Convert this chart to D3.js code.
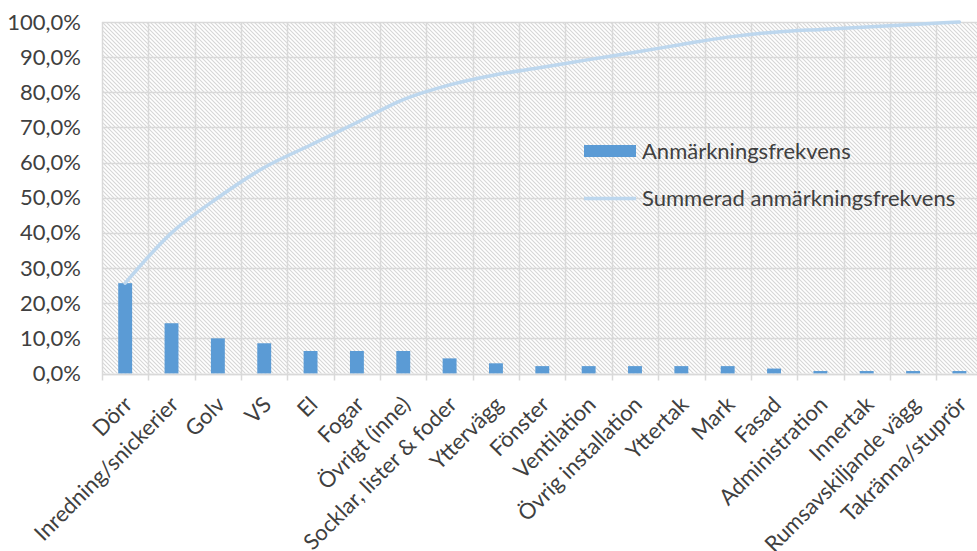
<!DOCTYPE html>
<html>
<head>
<meta charset="utf-8">
<script src="https://cdn.jsdelivr.net/npm/d3@7"></script>
<style>
  html, body { margin: 0; padding: 0; background: #ffffff; }
  svg { display: block; font-family: Lato, "Open Sans", sans-serif; }
</style>
</head>
<body>
<svg id="chart" width="977" height="551"></svg>
<script>
// Categories (sorted by frequency)
const categories = [
  "Dörr", "Inredning/snickerier", "Golv", "VS", "El", "Fogar", "Övrigt (inne)",
  "Socklar, lister & foder", "Yttervägg", "Fönster", "Ventilation", "Övrig installation",
  "Yttertak", "Mark", "Fasad", "Administration", "Innertak", "Rumsavskiljande vägg",
  "Takränna/stuprör"
];

// Anmärkningsfrekvens (%)
const frequency = [
  25.7, 14.3, 10.0, 8.6, 6.4, 6.4, 6.4,
  4.3, 2.9, 2.1, 2.1, 2.1,
  2.1, 2.1, 1.4, 0.7, 0.7, 0.7,
  0.7
];

// Summerad anmärkningsfrekvens (%)
const cumulative = [
  25.7, 40.0, 50.0, 58.6, 65.0, 71.4, 77.9,
  82.1, 85.0, 87.1, 89.3, 91.4,
  93.6, 95.7, 97.1, 97.9, 98.6, 99.3,
  100.0
];

// Y axis ticks (%)
const yTicks = [0, 10, 20, 30, 40, 50, 60, 70, 80, 90, 100];

const seriesNames = ["Anmärkningsfrekvens", "Summerad anmärkningsfrekvens"];

const svg = d3.select("#chart");
const plot = { left: 102, top: 22, right: 982.6, bottom: 373.5 };

const x = d3.scaleBand().domain(categories).range([plot.left, plot.right]).padding(0);
const y = d3.scaleLinear().domain([0, 100]).range([plot.bottom, plot.top]);

const sv = d3.formatLocale({ decimal: ",", thousands: "\u00a0", grouping: [3], currency: ["", " kr"] });
const fmt = v => sv.format(".1f")(v) + "%";

const gridColor = "#d9d9d9";
const textColor = "#404040";
const fontSize = 22;

// Hatched plot-area background
const defs = svg.append("defs");
const pat = defs.append("pattern")
  .attr("id", "hatch")
  .attr("patternUnits", "userSpaceOnUse")
  .attr("width", 4).attr("height", 4);
pat.append("rect").attr("width", 4).attr("height", 4).attr("fill", "#ffffff");
pat.append("path")
  .attr("d", "M-1,-1 L5,5 M-1,3 L1,5 M3,-1 L5,1")
  .attr("stroke", "#d6d6d6").attr("stroke-width", 1.1);

svg.append("rect")
  .attr("x", plot.left).attr("y", plot.top)
  .attr("width", plot.right - plot.left).attr("height", plot.bottom - plot.top)
  .attr("fill", "url(#hatch)");

// Horizontal gridlines
svg.append("g").selectAll("line").data(yTicks).join("line")
  .attr("x1", plot.left).attr("x2", plot.right)
  .attr("y1", d => Math.round(y(d)) + 0.5).attr("y2", d => Math.round(y(d)) + 0.5)
  .attr("stroke", gridColor).attr("stroke-width", 1.5);

// Vertical gridlines at category boundaries
const bounds = categories.map(c => x(c)).concat([plot.right]);
svg.append("g").selectAll("line").data(bounds).join("line")
  .attr("x1", d => Math.round(d) + 0.5).attr("x2", d => Math.round(d) + 0.5)
  .attr("y1", plot.top).attr("y2", plot.bottom + 7)
  .attr("stroke", gridColor).attr("stroke-width", 1.5);

// Y axis labels
const yAxis = d3.axisLeft(y).tickValues(yTicks).tickFormat(fmt).tickSize(0).tickPadding(0);
const gy = svg.append("g").attr("transform", `translate(${plot.left - 21},0)`).call(yAxis);
gy.select(".domain").remove();
gy.selectAll("text")
  .attr("fill", textColor).attr("font-size", fontSize).attr("font-family", "Lato, sans-serif");

// Bars
const barW = x.bandwidth() * 0.3;
svg.append("g").selectAll("rect").data(categories).join("rect")
  .attr("x", (d) => x(d) + (x.bandwidth() - barW) / 2)
  .attr("y", (d, i) => y(frequency[i]))
  .attr("width", barW)
  .attr("height", (d, i) => y(0) - y(frequency[i]))
  .attr("fill", "#5b9bd5");

// X axis baseline
svg.append("line")
  .attr("x1", plot.left).attr("x2", plot.right)
  .attr("y1", Math.round(y(0)) + 0.5).attr("y2", Math.round(y(0)) + 0.5)
  .attr("stroke", gridColor).attr("stroke-width", 1.5);

// Cumulative line
const line = d3.line()
  .x((d, i) => x(categories[i]) + x.bandwidth() / 2)
  .y(d => y(d))
  .curve(d3.curveMonotoneX);
svg.append("path")
  .datum(cumulative)
  .attr("d", line)
  .attr("fill", "none")
  .attr("stroke", "#bdd7ee")
  .attr("stroke-width", 3.5)
  .attr("stroke-linecap", "round");

// X axis labels, rotated
const xAxis = d3.axisBottom(x).tickSize(0).tickPadding(0);
const gx = svg.append("g").attr("transform", `translate(0,${plot.bottom})`).call(xAxis);
gx.select(".domain").remove();
gx.selectAll(".tick text")
  .attr("fill", textColor).attr("font-size", fontSize).attr("font-family", "Lato, sans-serif")
  .attr("text-anchor", "end")
  .attr("dy", "0.35em")
  .attr("transform", "translate(3,27) rotate(-45)");

// Legend
const lg = svg.append("g");
lg.append("rect").attr("x", 584).attr("y", 145).attr("width", 52).attr("height", 12).attr("fill", "#5b9bd5");
lg.append("text").attr("x", 642).attr("y", 151).attr("dy", "0.35em")
  .attr("fill", textColor).attr("font-size", fontSize).text(seriesNames[0]);
lg.append("line").attr("x1", 584).attr("x2", 636).attr("y1", 198.5).attr("y2", 198.5)
  .attr("stroke", "#bdd7ee").attr("stroke-width", 3.5);
lg.append("text").attr("x", 642).attr("y", 198.5).attr("dy", "0.35em")
  .attr("fill", textColor).attr("font-size", fontSize).text(seriesNames[1]);
</script>
</body>
</html>
